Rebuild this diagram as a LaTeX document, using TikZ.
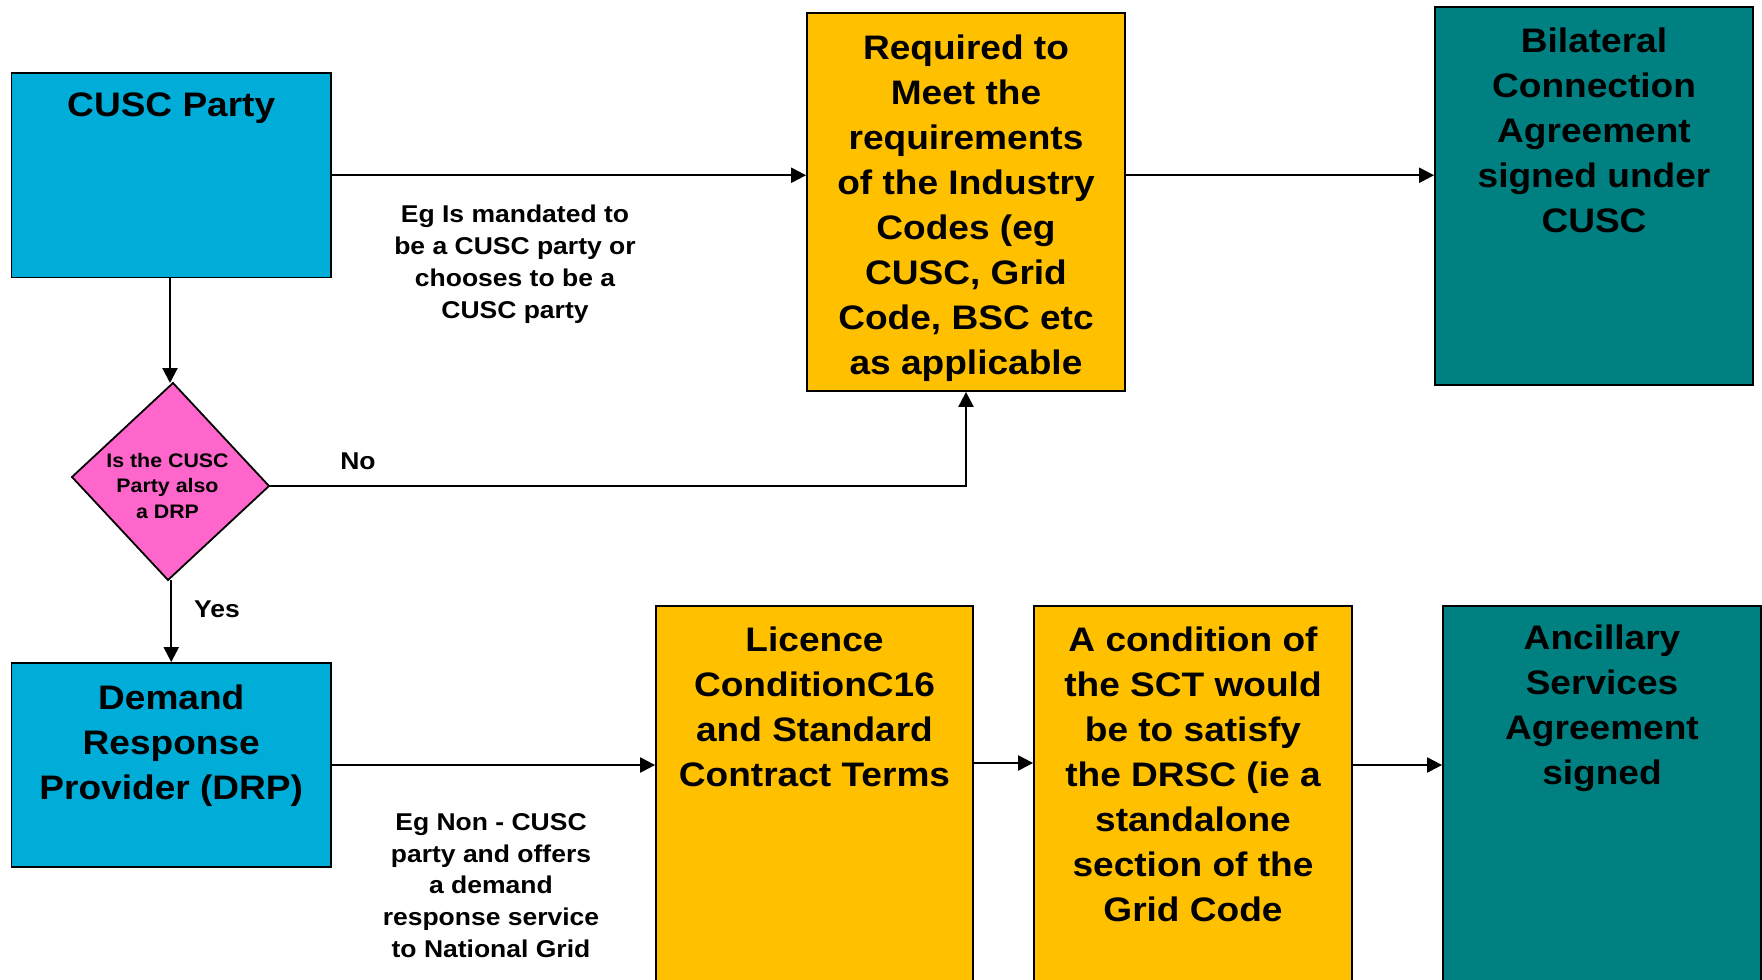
\documentclass[tikz,border=0pt]{standalone}
\usepackage{fontspec}
\setmainfont{Liberation Sans}[FakeStretch=1.09]
\usetikzlibrary{arrows.meta}
\definecolor{cblue}{HTML}{00ADD8}
\definecolor{cyel}{HTML}{FFC000}
\definecolor{cteal}{HTML}{008080}
\definecolor{cpink}{HTML}{FF66CC}
\begin{document}
\begin{tikzpicture}[x=1pt,y=-1pt,
  box/.style={draw=black, line width=1.8pt, inner sep=0pt, minimum width=318pt},
  arr/.style={line width=2.2pt, -{Triangle[length=15pt,width=15pt]}},
  btxt/.style={anchor=base, align=center, inner sep=0pt, font=\fontsize{34}{45}\selectfont\bfseries},
  stxt/.style={anchor=base, align=center, inner sep=0pt, font=\fontsize{24.3}{31.8}\selectfont\bfseries},
  dtxt/.style={anchor=base, align=center, inner sep=0pt, font=\fontsize{19.6}{25.5}\selectfont\bfseries}]
\useasboundingbox (0,0) rectangle (1762,980);
\clip (0,0) rectangle (1762,980);
\fill[white] (0,0) rectangle (1762,980);

% boxes
\node[box, fill=cblue, minimum width=319.5pt, minimum height=204.5pt] (cusc) at (171.25,175.25) {};
\node[box, fill=cyel, minimum height=378.3pt] (req) at (966,201.85) {};
\node[box, fill=cteal, minimum height=378.3pt] (bil) at (1594,195.85) {};
\node[box, fill=cblue, minimum width=319.5pt, minimum height=204pt] (drp) at (171.25,765) {};
\node[box, fill=cyel, minimum width=317pt, minimum height=394pt] (lic) at (814.5,803) {};
\node[box, fill=cyel, minimum height=394pt] (sct) at (1193,803) {};
\node[box, fill=cteal, minimum height=394pt] (anc) at (1602,803) {};

% diamond
\coordinate (dT) at (173,383);
\coordinate (dR) at (269,486);
\coordinate (dB) at (168,580);
\coordinate (dL) at (72,477);
\filldraw[fill=cpink, draw=black, line width=1.8pt, line join=miter] (dT) -- (dR) -- (dB) -- (dL) -- cycle;

% texts (anchor = baseline of last line)
\node[btxt] (cuscT) at (171.25,116) {CUSC Party};
\node[btxt] (reqT) at (966,374.3) {Required to\\Meet the\\requirements\\of the Industry\\Codes (eg\\CUSC, Grid\\Code, BSC etc\\as applicable};
\node[btxt] (bilT) at (1594,232.7) {Bilateral\\Connection\\Agreement\\signed under\\CUSC};
\node[btxt] (drpT) at (171.25,799) {Demand\\Response\\Provider (DRP)};
\node[btxt] (licT) at (814.5,786.7) {Licence\\ConditionC16\\and Standard\\Contract Terms};
\node[btxt] (sctT) at (1193,921.7) {A condition of\\the SCT would\\be to satisfy\\the DRSC (ie a\\standalone\\section of the\\Grid Code};
\node[btxt] (ancT) at (1602,784.5) {Ancillary\\Services\\Agreement\\signed};
\node[dtxt] (dT1) at (167.5,518) {Is the CUSC\\Party also\\a DRP};

\node[stxt] (lab1) at (515,318.1) {Eg Is mandated to\\be a CUSC party or\\chooses to be a\\CUSC party};
\node[stxt] (lab2) at (491,957.5) {Eg Non - CUSC\\party and offers\\a demand\\response service\\to National Grid};
\node[stxt] (no) at (358,469.3) {No};
\node[stxt] (yes) at (217,617) {Yes};

% connectors
\draw[arr] (cusc.east) -- (req.west |- cusc.east);
\draw[arr] (req.east |- cusc.east) -- (bil.west |- cusc.east);
\draw[arr] (170,277.5) -- (170,383);
\draw[arr] (dR) -| (req.south);
\draw[arr] (drp.north |- dB) -- (drp.north);
\draw[arr] (drp.east) -- (lic.west |- drp.east);
\draw[arr] (lic.east |- 0,763) -- (sct.west |- 0,763);
\draw[arr] (sct.east |- drp.east) -- (anc.west |- drp.east);
\end{tikzpicture}
\end{document}
